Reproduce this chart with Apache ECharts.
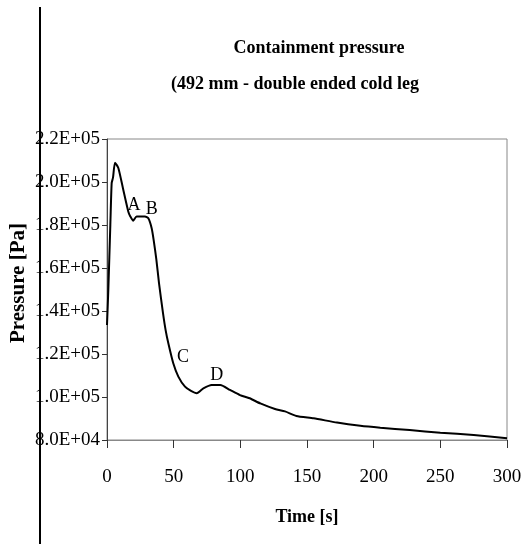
<!DOCTYPE html>
<html>
<head>
<meta charset="utf-8">
<script src="https://cdn.jsdelivr.net/npm/echarts@6/dist/echarts.min.js"></script>
<style>
html,body{margin:0;padding:0;background:#fff;}
#chart{width:523px;height:544px;}
</style>
</head>
<body>
<div id="chart"></div>
<script>
// Time [s]
var times = [0, 1, 2.5, 3.5, 4.5, 6, 8.5, 12, 16, 17.5, 19.7, 22.2, 28.5, 31, 33.5, 35, 37, 39, 42, 44, 46, 49.7, 53.5, 58.5, 63, 67.3, 72.3, 78.5, 85, 92.2, 99.7, 107, 115, 126, 133.5, 142, 155, 172.5, 190, 205, 227, 250, 275, 300];
// Pressure [Pa]
var pressures = [133500, 150000, 180000, 199500, 202000, 209000, 206500, 197000, 186200, 184000, 182000, 184000, 184000, 183100, 178500, 173000, 164000, 153000, 139000, 131000, 125000, 115700, 109500, 104800, 102800, 101700, 104000, 105600, 105600, 103300, 100900, 99400, 97000, 94400, 93300, 91200, 90100, 88100, 86600, 85700, 84600, 83400, 82300, 80800];
// Point labels
var markNames = ['A', 'B', 'C', 'D'];
var markTimes = [20.3, 33.5, 57, 82.3];
var markPressures = [189300, 187400, 118600, 110200];
// Axis ticks
var xTicks = [0, 50, 100, 150, 200, 250, 300];
var yTicks = [80000, 100000, 120000, 140000, 160000, 180000, 200000, 220000];
var yTickLabels = ['8.0E+04', '1.0E+05', '1.2E+05', '1.4E+05', '1.6E+05', '1.8E+05', '2.0E+05', '2.2E+05'];

var lineData = times.map(function (t, i) { return [t, pressures[i]]; });
var markData = markTimes.map(function (t, i) { return { value: [t, markPressures[i]], name: markNames[i] }; });

var serif = '"Liberation Serif", "Times New Roman", serif';
var chart = echarts.init(document.getElementById('chart'), null, { renderer: 'canvas' });
chart.setOption({
  animation: false,
  backgroundColor: '#ffffff',
  title: [
    { text: 'Containment pressure', left: 314, top: 34, textAlign: 'center',
      textStyle: { fontFamily: serif, fontSize: 18, fontWeight: 'bold', color: '#000' } },
    { text: '(492 mm - double ended cold leg', left: 290, top: 70, textAlign: 'center',
      textStyle: { fontFamily: serif, fontSize: 18, fontWeight: 'bold', color: '#000' } }
  ],
  grid: { left: 107, top: 139, right: 16, bottom: 104, containLabel: false, outerBoundsMode: 'none',
    show: true, borderColor: '#888', borderWidth: 1, backgroundColor: 'transparent' },
  xAxis: {
    type: 'value', min: 0, max: 300, interval: 50,
    name: 'Time [s]', nameLocation: 'middle', nameGap: 68,
    nameTextStyle: { fontFamily: serif, fontSize: 18, fontWeight: 'bold', color: '#000' },
    axisLine: { show: true, lineStyle: { color: '#888', width: 1 } },
    axisTick: { show: true, inside: false, length: 8, lineStyle: { color: '#333' } },
    axisLabel: { fontFamily: serif, fontSize: 19, color: '#000', margin: 28,
      formatter: function (v) { return xTicks.indexOf(v) >= 0 ? String(v) : ''; } },
    splitLine: { show: false }
  },
  yAxis: {
    type: 'value', min: 80000, max: 220000, interval: 20000,
    axisLine: { show: true, lineStyle: { color: '#444', width: 1 } },
    axisTick: { show: true, inside: false, length: 5, lineStyle: { color: '#333' } },
    axisLabel: { fontFamily: serif, fontSize: 19, color: '#000', margin: 7,
      formatter: function (v) { var i = yTicks.indexOf(v); return i >= 0 ? yTickLabels[i] : ''; } },
    splitLine: { show: false }
  },
  graphic: [
    { type: 'line', shape: { x1: 40, y1: 7, x2: 40, y2: 544 }, style: { stroke: '#000', lineWidth: 2 } },
    { type: 'text', x: 19, y: 283, rotation: Math.PI / 2,
      style: { text: 'Pressure [Pa]', align: 'center', verticalAlign: 'middle',
        font: 'bold 21px ' + serif, fill: '#000' } }
  ],
  series: [
    { type: 'line', data: lineData, showSymbol: false, smooth: 0.2,
      lineStyle: { color: '#000', width: 2 } },
    { type: 'scatter', data: markData, symbolSize: 0, itemStyle: { color: '#000', opacity: 1 },
      label: { show: true, position: 'inside', formatter: '{b}', fontFamily: serif, fontSize: 18, color: '#000', textBorderWidth: 0 } }
  ]
});
</script>
</body>
</html>
